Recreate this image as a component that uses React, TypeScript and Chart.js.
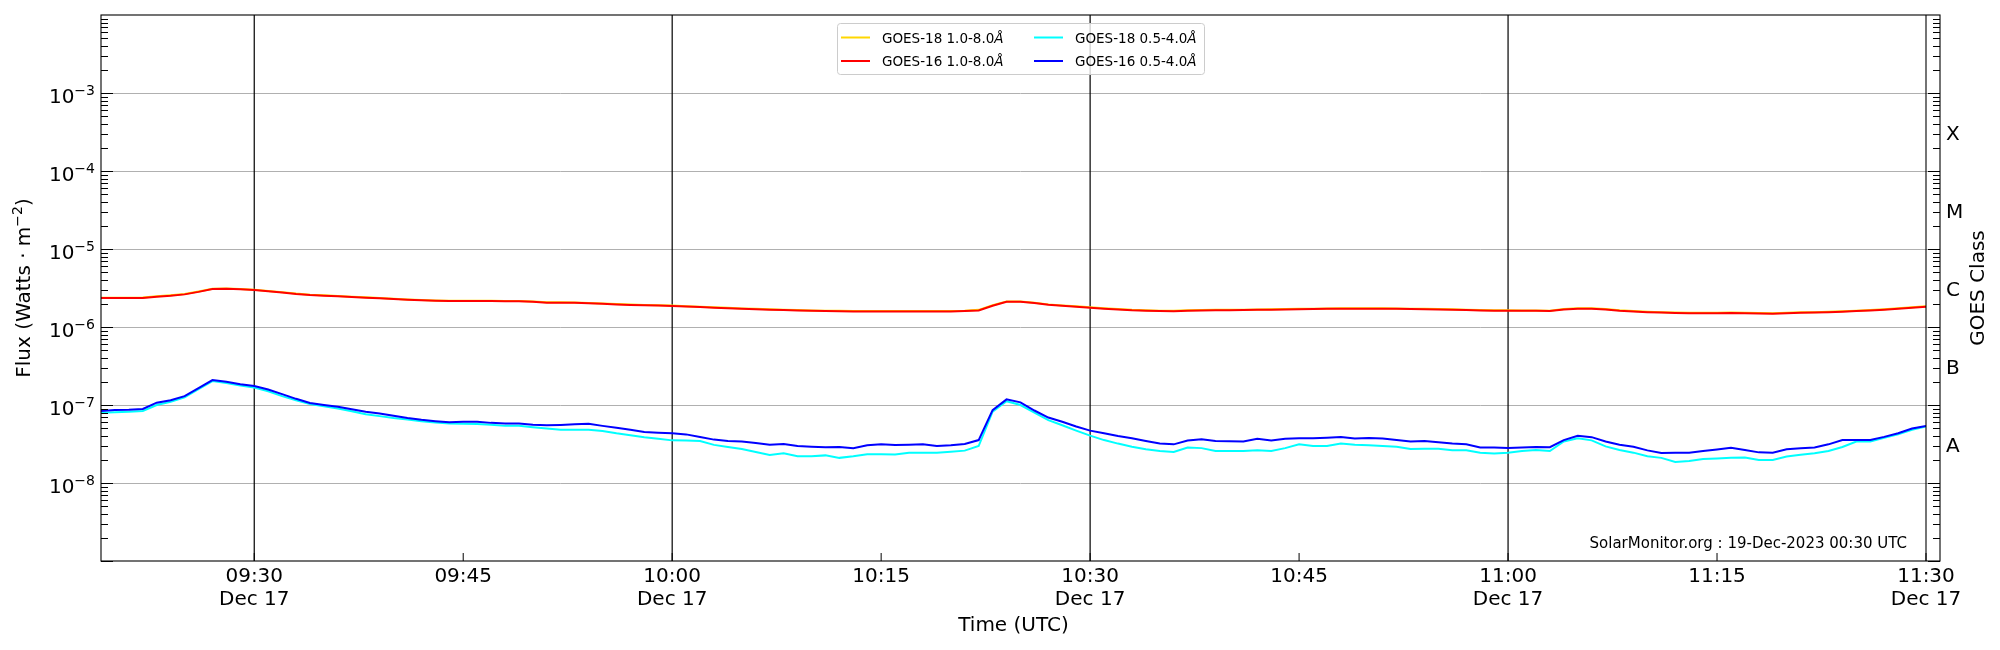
import { useEffect, useRef } from "react";
import { Chart, registerables } from "chart.js";

Chart.register(...registerables);

// time axis in minutes after midnight (UTC), 1-minute averages 09:19 .. 11:30
const START = 559;
const END = 690;
const minutes = Array.from({ length: END - START + 1 }, (_, i) => START + i);

// GOES-18 1.0-8.0 A (long channel)
const goes18Long = [
  2.38e-6,
  2.38e-6, 2.38e-6, 2.39e-6, 2.47e-6, 2.55e-6, 2.65e-6, 2.86e-6, 3.1e-6, 3.12e-6, 3.07e-6,
  3.0e-6, 2.9e-6, 2.79e-6, 2.68e-6, 2.6e-6, 2.55e-6, 2.5e-6, 2.45e-6, 2.4e-6, 2.36e-6,
  2.31e-6, 2.26e-6, 2.22e-6, 2.19e-6, 2.17e-6, 2.17e-6, 2.17e-6, 2.17e-6, 2.16e-6, 2.16e-6,
  2.12e-6, 2.07e-6, 2.07e-6, 2.06e-6, 2.03e-6, 2.0e-6, 1.97e-6, 1.94e-6, 1.92e-6, 1.9e-6,
  1.88e-6, 1.85e-6, 1.82e-6, 1.79e-6, 1.76e-6, 1.73e-6, 1.71e-6, 1.69e-6, 1.67e-6, 1.65e-6,
  1.63e-6, 1.62e-6, 1.61e-6, 1.6e-6, 1.6e-6, 1.6e-6, 1.6e-6, 1.6e-6, 1.6e-6, 1.6e-6,
  1.6e-6, 1.62e-6, 1.66e-6, 1.9e-6, 2.13e-6, 2.13e-6, 2.05e-6, 1.95e-6, 1.89e-6, 1.84e-6,
  1.79e-6, 1.74e-6, 1.7e-6, 1.66e-6, 1.64e-6, 1.62e-6, 1.61e-6, 1.64e-6, 1.65e-6, 1.66e-6,
  1.66e-6, 1.67e-6, 1.68e-6, 1.69e-6, 1.7e-6, 1.71e-6, 1.72e-6, 1.73e-6, 1.74e-6, 1.74e-6,
  1.74e-6, 1.74e-6, 1.73e-6, 1.72e-6, 1.71e-6, 1.7e-6, 1.69e-6, 1.67e-6, 1.65e-6, 1.64e-6,
  1.64e-6, 1.63e-6, 1.63e-6, 1.62e-6, 1.7e-6, 1.74e-6, 1.74e-6, 1.7e-6, 1.64e-6, 1.6e-6,
  1.57e-6, 1.55e-6, 1.53e-6, 1.52e-6, 1.52e-6, 1.52e-6, 1.53e-6, 1.52e-6, 1.51e-6, 1.5e-6,
  1.52e-6, 1.54e-6, 1.55e-6, 1.57e-6, 1.59e-6, 1.62e-6, 1.65e-6, 1.69e-6, 1.74e-6, 1.79e-6,
  1.84e-6,
];

// GOES-16 1.0-8.0 A
const goes16Long = [
  2.36e-6,
  2.36e-6, 2.36e-6, 2.36e-6, 2.45e-6, 2.52e-6, 2.62e-6, 2.82e-6, 3.07e-6, 3.1e-6, 3.05e-6,
  2.98e-6, 2.88e-6, 2.76e-6, 2.65e-6, 2.57e-6, 2.52e-6, 2.48e-6, 2.43e-6, 2.38e-6, 2.33e-6,
  2.28e-6, 2.24e-6, 2.2e-6, 2.17e-6, 2.15e-6, 2.15e-6, 2.15e-6, 2.15e-6, 2.14e-6, 2.14e-6,
  2.1e-6, 2.05e-6, 2.05e-6, 2.04e-6, 2.01e-6, 1.98e-6, 1.95e-6, 1.92e-6, 1.9e-6, 1.88e-6,
  1.86e-6, 1.83e-6, 1.8e-6, 1.77e-6, 1.74e-6, 1.71e-6, 1.69e-6, 1.67e-6, 1.65e-6, 1.63e-6,
  1.61e-6, 1.6e-6, 1.59e-6, 1.58e-6, 1.58e-6, 1.58e-6, 1.58e-6, 1.58e-6, 1.58e-6, 1.58e-6,
  1.58e-6, 1.6e-6, 1.63e-6, 1.87e-6, 2.11e-6, 2.11e-6, 2.03e-6, 1.93e-6, 1.87e-6, 1.82e-6,
  1.77e-6, 1.72e-6, 1.68e-6, 1.64e-6, 1.62e-6, 1.6e-6, 1.59e-6, 1.62e-6, 1.63e-6, 1.64e-6,
  1.64e-6, 1.65e-6, 1.66e-6, 1.67e-6, 1.68e-6, 1.69e-6, 1.7e-6, 1.71e-6, 1.72e-6, 1.72e-6,
  1.72e-6, 1.72e-6, 1.71e-6, 1.7e-6, 1.69e-6, 1.68e-6, 1.67e-6, 1.65e-6, 1.63e-6, 1.62e-6,
  1.62e-6, 1.61e-6, 1.61e-6, 1.6e-6, 1.68e-6, 1.72e-6, 1.72e-6, 1.68e-6, 1.62e-6, 1.58e-6,
  1.55e-6, 1.53e-6, 1.51e-6, 1.5e-6, 1.5e-6, 1.5e-6, 1.51e-6, 1.5e-6, 1.49e-6, 1.48e-6,
  1.5e-6, 1.52e-6, 1.53e-6, 1.55e-6, 1.57e-6, 1.6e-6, 1.63e-6, 1.67e-6, 1.72e-6, 1.77e-6,
  1.82e-6,
];

// GOES-18 0.5-4.0 A (short channel)
const goes18Short = [
  7.96e-8,
  8.1e-8, 8.2e-8, 8.4e-8, 1.0e-7, 1.1e-7, 1.25e-7, 1.6e-7, 2.03e-7, 1.92e-7, 1.78e-7,
  1.68e-7, 1.5e-7, 1.3e-7, 1.15e-7, 1.03e-7, 9.6e-8, 9.0e-8, 8.3e-8, 7.6e-8, 7.2e-8,
  6.8e-8, 6.5e-8, 6.2e-8, 5.95e-8, 5.8e-8, 5.75e-8, 5.7e-8, 5.6e-8, 5.4e-8, 5.4e-8,
  5.2e-8, 5.0e-8, 4.8e-8, 4.8e-8, 4.8e-8, 4.65e-8, 4.34e-8, 4.1e-8, 3.87e-8, 3.7e-8,
  3.52e-8, 3.5e-8, 3.45e-8, 3.08e-8, 2.9e-8, 2.73e-8, 2.5e-8, 2.29e-8, 2.4e-8, 2.2e-8,
  2.2e-8, 2.26e-8, 2.1e-8, 2.2e-8, 2.33e-8, 2.33e-8, 2.32e-8, 2.45e-8, 2.45e-8, 2.45e-8,
  2.52e-8, 2.6e-8, 2.98e-8, 8.2e-8, 1.12e-7, 1.0e-7, 8.0e-8, 6.4e-8, 5.5e-8, 4.7e-8,
  4.05e-8, 3.55e-8, 3.2e-8, 2.92e-8, 2.7e-8, 2.57e-8, 2.5e-8, 2.85e-8, 2.8e-8, 2.57e-8,
  2.58e-8, 2.58e-8, 2.63e-8, 2.58e-8, 2.8e-8, 3.13e-8, 2.98e-8, 2.98e-8, 3.2e-8, 3.1e-8,
  3.05e-8, 2.98e-8, 2.92e-8, 2.73e-8, 2.75e-8, 2.75e-8, 2.63e-8, 2.63e-8, 2.45e-8, 2.39e-8,
  2.45e-8, 2.57e-8, 2.65e-8, 2.57e-8, 3.4e-8, 3.74e-8, 3.52e-8, 2.95e-8, 2.65e-8, 2.45e-8,
  2.2e-8, 2.1e-8, 1.86e-8, 1.92e-8, 2.03e-8, 2.06e-8, 2.1e-8, 2.12e-8, 1.97e-8, 1.97e-8,
  2.18e-8, 2.3e-8, 2.4e-8, 2.57e-8, 2.9e-8, 3.4e-8, 3.4e-8, 3.8e-8, 4.2e-8, 4.8e-8,
  5.3e-8,
];

// GOES-16 0.5-4.0 A
const goes16Short = [
  8.4e-8,
  8.6e-8, 8.7e-8, 8.9e-8, 1.07e-7, 1.15e-7, 1.3e-7, 1.65e-7, 2.09e-7, 1.98e-7, 1.85e-7,
  1.75e-7, 1.58e-7, 1.38e-7, 1.2e-7, 1.06e-7, 1.0e-7, 9.5e-8, 8.8e-8, 8.2e-8, 7.8e-8,
  7.3e-8, 6.8e-8, 6.45e-8, 6.2e-8, 6.0e-8, 6.1e-8, 6.1e-8, 5.9e-8, 5.8e-8, 5.8e-8,
  5.6e-8, 5.5e-8, 5.55e-8, 5.65e-8, 5.75e-8, 5.4e-8, 5.1e-8, 4.8e-8, 4.5e-8, 4.4e-8,
  4.34e-8, 4.2e-8, 3.9e-8, 3.6e-8, 3.45e-8, 3.4e-8, 3.25e-8, 3.1e-8, 3.17e-8, 2.98e-8,
  2.92e-8, 2.88e-8, 2.9e-8, 2.79e-8, 3.04e-8, 3.15e-8, 3.07e-8, 3.1e-8, 3.13e-8, 2.98e-8,
  3.05e-8, 3.17e-8, 3.55e-8, 8.6e-8, 1.18e-7, 1.08e-7, 8.5e-8, 6.9e-8, 6.1e-8, 5.3e-8,
  4.69e-8, 4.35e-8, 4.0e-8, 3.74e-8, 3.45e-8, 3.2e-8, 3.13e-8, 3.5e-8, 3.65e-8, 3.45e-8,
  3.42e-8, 3.4e-8, 3.68e-8, 3.52e-8, 3.68e-8, 3.74e-8, 3.74e-8, 3.8e-8, 3.88e-8, 3.72e-8,
  3.78e-8, 3.72e-8, 3.55e-8, 3.4e-8, 3.45e-8, 3.33e-8, 3.2e-8, 3.13e-8, 2.85e-8, 2.85e-8,
  2.82e-8, 2.85e-8, 2.9e-8, 2.88e-8, 3.55e-8, 4.03e-8, 3.87e-8, 3.4e-8, 3.1e-8, 2.92e-8,
  2.62e-8, 2.43e-8, 2.44e-8, 2.45e-8, 2.57e-8, 2.68e-8, 2.82e-8, 2.65e-8, 2.47e-8, 2.45e-8,
  2.7e-8, 2.78e-8, 2.85e-8, 3.13e-8, 3.55e-8, 3.55e-8, 3.55e-8, 3.9e-8, 4.34e-8, 5.0e-8,
  5.4e-8,
];

const xTickMinutes = [570, 585, 600, 615, 630, 645, 660, 675, 690];
const xTickLabels = ["09:30", "09:45", "10:00", "10:15", "10:30", "10:45", "11:00", "11:15", "11:30"];
const xTickDates = ["Dec 17", "", "Dec 17", "", "Dec 17", "", "Dec 17", "", "Dec 17"];
const yTickExponents = [-3, -4, -5, -6, -7, -8];
const goesClasses = ["A", "B", "C", "M", "X"];
const goesClassExponents = [-7.5, -6.5, -5.5, -4.5, -3.5];

const seriesLabels = ["GOES-18 1.0-8.0Å", "GOES-16 1.0-8.0Å", "GOES-18 0.5-4.0Å", "GOES-16 0.5-4.0Å"];
const seriesColors = ["#ffd700", "#ff0000", "#00ffff", "#0000ff"];
const seriesValues = [goes18Long, goes16Long, goes18Short, goes16Short];

const FONT = '"DejaVu Sans", sans-serif';
const stamp = "SolarMonitor.org : 19-Dec-2023 00:30 UTC";

function line(ctx: CanvasRenderingContext2D, x1: number, y1: number, x2: number, y2: number) {
  ctx.beginPath();
  ctx.moveTo(x1, y1);
  ctx.lineTo(x2, y2);
  ctx.stroke();
}

// matplotlib style decorations: frame, inward ticks, mathtext-like labels, legend
const goesDecor = {
  id: "goesDecor",
  beforeDatasetsDraw(chart: any) {
    const { ctx, chartArea: a, scales } = chart;
    const outerRight = a.right + 14;
    ctx.save();
    ctx.strokeStyle = "#b0b0b0";
    ctx.lineWidth = 1;
    for (let e = -8; e <= -3; e++) {
      const py = Math.round(scales.y.getPixelForValue(10 ** e)) + 0.5;
      line(ctx, a.left, py, outerRight, py);
    }
    ctx.strokeStyle = "#000";
    ctx.lineWidth = 1.2;
    xTickMinutes.forEach((t) => {
      if (t % 30 !== 0 || t >= END) return;
      const px = scales.x.getPixelForValue(t);
      line(ctx, px, a.top, px, a.bottom);
    });
    ctx.restore();
  },
  afterDraw(chart: any) {
    const { ctx, chartArea: a, scales } = chart;
    const xs = scales.x;
    const ys = scales.y;
    const outerRight = a.right + 14;
    ctx.save();

    // frame (main axes + twin axes box)
    ctx.strokeStyle = "#000";
    ctx.lineWidth = 1.1;
    ctx.strokeRect(a.left, a.top, outerRight - a.left, a.bottom - a.top);
    line(ctx, a.right, a.top, a.right, a.bottom);

    // log ticks, pointing inward on both sides
    ctx.lineWidth = 1;
    for (let d = -9; d <= -3; d++) {
      for (let k = 1; k <= 9; k++) {
        const v = k * 10 ** d;
        const py = Math.round(ys.getPixelForValue(v)) + 0.5;
        const len = k === 1 ? 12 : 7;
        line(ctx, a.left, py, a.left + len, py);
        line(ctx, outerRight, py, outerRight - len, py);
      }
    }
    xTickMinutes.forEach((t) => {
      const px = xs.getPixelForValue(t);
      line(ctx, px, a.bottom, px, a.bottom - 8);
    });

    ctx.fillStyle = "#000";
    // x tick labels
    ctx.textAlign = "center";
    ctx.textBaseline = "alphabetic";
    ctx.font = `20px ${FONT}`;
    xTickMinutes.forEach((t, i) => {
      const px = xs.getPixelForValue(t);
      ctx.fillText(xTickLabels[i], px, a.bottom + 21);
      if (xTickDates[i]) ctx.fillText(xTickDates[i], px, a.bottom + 44);
    });

    // y tick labels: 10^e
    ctx.textAlign = "right";
    const labelRight = a.left - 6;
    yTickExponents.forEach((e) => {
      const py = ys.getPixelForValue(10 ** e);
      ctx.font = `14px ${FONT}`;
      const sup = "\u2212" + Math.abs(e);
      const supW = ctx.measureText(sup).width;
      ctx.fillText(sup, labelRight, py + 2);
      ctx.font = `20px ${FONT}`;
      ctx.fillText("10", labelRight - supW, py + 10);
    });

    // axis titles
    ctx.textAlign = "center";
    ctx.font = `20px ${FONT}`;
    ctx.fillText("Time (UTC)", (a.left + a.right) / 2, 631);

    const midY = (a.top + a.bottom) / 2;
    ctx.save();
    ctx.translate(23, midY);
    ctx.rotate(-Math.PI / 2);
    ctx.textAlign = "left";
    const p1 = "Flux (Watts \u00b7 m";
    const p2 = "\u22122";
    const p3 = ")";
    ctx.font = `20px ${FONT}`;
    const w1 = ctx.measureText(p1).width;
    const w3 = ctx.measureText(p3).width;
    ctx.font = `14px ${FONT}`;
    const w2 = ctx.measureText(p2).width;
    let cx = -(w1 + w2 + w3) / 2;
    ctx.font = `20px ${FONT}`;
    ctx.fillText(p1, cx, 7);
    cx += w1;
    ctx.font = `14px ${FONT}`;
    ctx.fillText(p2, cx, -1);
    cx += w2;
    ctx.font = `20px ${FONT}`;
    ctx.fillText(p3, cx, 7);
    ctx.restore();

    // GOES class axis on the right
    ctx.textAlign = "left";
    ctx.font = `20px ${FONT}`;
    goesClasses.forEach((c, i) => {
      const py = ys.getPixelForValue(10 ** goesClassExponents[i]);
      ctx.fillText(c, outerRight + 6, py + 7.5);
    });
    ctx.save();
    ctx.translate(1976, midY);
    ctx.rotate(-Math.PI / 2);
    ctx.textAlign = "center";
    ctx.fillText("GOES Class", 0, 7.5);
    ctx.restore();

    // stamp
    ctx.textAlign = "right";
    ctx.font = `15px ${FONT}`;
    ctx.fillText(stamp, a.right - 19, a.bottom - 13);

    // legend, two columns
    const lx = 837;
    const ly = 23;
    const lw = 367;
    const lh = 51;
    ctx.beginPath();
    ctx.roundRect(lx + 0.5, ly + 0.5, lw, lh, 3);
    ctx.fillStyle = "rgba(255,255,255,0.8)";
    ctx.fill();
    ctx.strokeStyle = "#cccccc";
    ctx.lineWidth = 1;
    ctx.stroke();
    chart.data.datasets.forEach((ds: any, i: number) => {
      const col = Math.floor(i / 2);
      const row = i % 2;
      const x0 = lx + 4 + col * 193;
      const yc = ly + 14.5 + row * 23.5;
      ctx.strokeStyle = ds.borderColor;
      ctx.lineWidth = 2;
      line(ctx, x0, yc, x0 + 29, yc);
      ctx.fillStyle = "#000";
      ctx.textAlign = "left";
      const txt = ds.label as string;
      const main = txt.slice(0, -1);
      ctx.font = `13.5px ${FONT}`;
      ctx.fillText(main, x0 + 41, yc + 5);
      const mw = ctx.measureText(main).width;
      ctx.font = `italic 13.5px ${FONT}`;
      ctx.fillText(txt.slice(-1), x0 + 41 + mw, yc + 5);
    });

    ctx.restore();
  },
};

// later series are drawn on top (GOES-16 over GOES-18), like the original plot
const drawOrder = [4, 3, 2, 1];

export default function App() {
  const chartRef = useRef<HTMLCanvasElement>(null);
  const chartInstance = useRef<Chart | null>(null);

  useEffect(() => {
    if (chartInstance.current) {
      chartInstance.current.destroy();
    }
    const canvas = chartRef.current;
    if (!canvas) return;

    chartInstance.current = new Chart(canvas, {
      type: "line",
      data: {
        datasets: seriesValues.map((vals, i) => ({
          label: seriesLabels[i],
          data: vals.map((v, j) => ({ x: minutes[j], y: v })),
          borderColor: seriesColors[i],
          backgroundColor: seriesColors[i],
          borderWidth: 2,
          pointRadius: 0,
          tension: 0,
          fill: false,
          order: drawOrder[i],
        })),
      },
      options: {
        responsive: true,
        maintainAspectRatio: false,
        animation: false,
        layout: { padding: { left: 101, right: 74, top: 15, bottom: 89 } },
        plugins: {
          legend: { display: false },
          tooltip: { enabled: false },
        },
        scales: {
          x: { type: "linear", min: START, max: END, display: false },
          y: { type: "logarithmic", min: 1e-9, max: 1e-2, display: false },
        },
      },
      plugins: [goesDecor],
    });

    return () => {
      if (chartInstance.current) {
        chartInstance.current.destroy();
        chartInstance.current = null;
      }
    };
  }, []);

  return (
    <div style={{ position: "fixed", left: 0, top: 0, width: 2000, height: 650, background: "#fff" }}>
      <canvas ref={chartRef} />
    </div>
  );
}
